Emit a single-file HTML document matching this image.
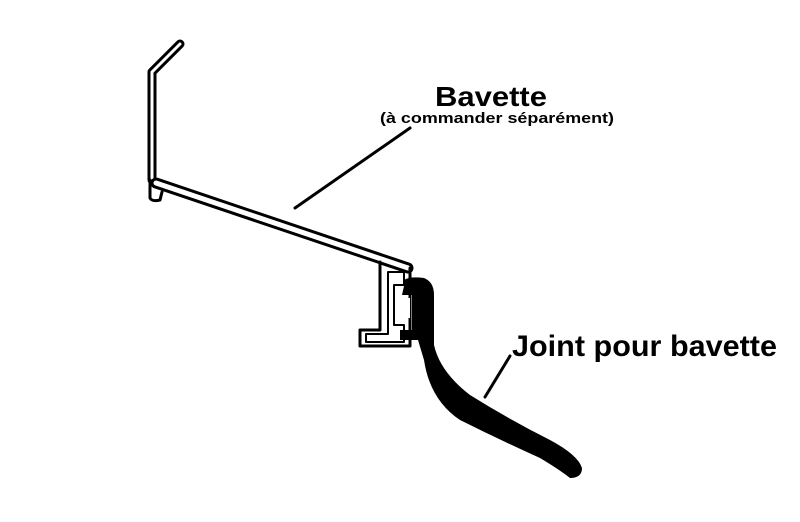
<!DOCTYPE html>
<html><head><style>
body{margin:0;background:#fff;width:800px;height:522px;overflow:hidden}
svg{display:block}
text{font-family:"Liberation Sans",sans-serif;font-weight:bold;fill:#000}
</style></head><body>
<svg width="800" height="522" viewBox="0 0 800 522">
<g fill="none" stroke="#000" stroke-linecap="round" stroke-linejoin="round">
<path d="M180 44 L152 72 L152 180" stroke-width="9"/>
<path d="M180 44 L152 72 L152 180" stroke="#fff" stroke-width="3"/>
<path d="M150 180 L150 198 Q152 202 160 200 L162 192" stroke-width="3"/>
<path d="M156 183 L408 268" stroke-width="11"/>
<path d="M156 183 L408 268" stroke="#fff" stroke-width="5"/>
<path d="M380 262 L380 330 L360 330 L360 346 L410 346 L410 268" stroke-width="3"/>
<path d="M388 272 L388 334 L366 334 L366 342 L404 342 L404 325 L394 325 L394 285 L404 285 L404 272 Z" stroke-width="2"/>
<path d="M410 128 L295 208" stroke-width="3"/>
<path d="M510 356 L485 397" stroke-width="3"/>
</g>
<path d="M404 286 L404 280 Q410 276 424 278 Q434 282 434 295 L434 345 Q440 372 470 395 Q510 420 550 440 Q578 455 582 468 Q582 478 570 478 Q560 470 540 458 Q500 440 460 420 Q430 400 424 360 L418 340 L400 340 L400 330 L412 330 L412 295 L402 295 Z" fill="#000"/>
<rect x="398" y="298" width="12" height="20" fill="#fff"/>
<text x="435" y="106" font-size="28" textLength="112" lengthAdjust="spacingAndGlyphs">Bavette</text>
<text x="380" y="123" font-size="15" textLength="234" lengthAdjust="spacingAndGlyphs">(à commander séparément)</text>
<text x="512" y="356" font-size="30" textLength="265" lengthAdjust="spacingAndGlyphs">Joint pour bavette</text>
</svg>
</body></html>
